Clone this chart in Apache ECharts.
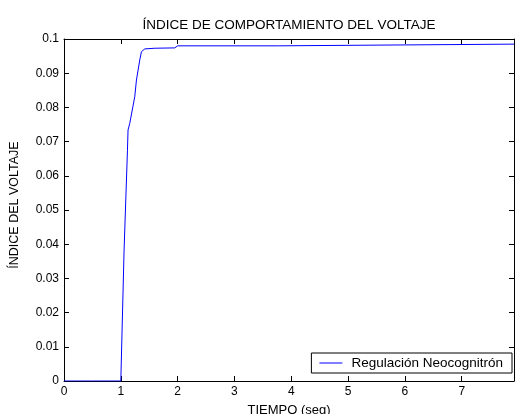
<!DOCTYPE html>
<html>
<head>
<meta charset="utf-8">
<script src="https://cdn.jsdelivr.net/npm/echarts@6/dist/echarts.min.js"></script>
<style>html,body{margin:0;padding:0;background:#fff}#c{width:515px;height:414px}</style>
</head>
<body>
<div id="c"></div>
<script>
const titleText = 'ÍNDICE DE COMPORTAMIENTO DEL VOLTAJE';
const xName = 'TIEMPO (seg)';
const yName = 'ÍNDICE DEL VOLTAJE';
const seriesName = 'Regulación Neocognitrón';
const time = [0, 0.5, 1.0, 1.057, 1.117, 1.127, 1.157, 1.245, 1.275, 1.334, 1.363, 1.422, 1.6, 1.95, 2.0, 3.77, 3.8, 7.92];
const voltIndex = [0, 0, 0, 0.038, 0.0675, 0.0734, 0.0753, 0.0831, 0.0880, 0.0939, 0.0963, 0.0971, 0.0973, 0.0974, 0.0980, 0.0980, 0.0985, 0.0985];

const chart = echarts.init(document.getElementById('c'));
const font = 'Liberation Sans, Arial, sans-serif';
function axisLine() { return {show: true, onZero: false, lineStyle: {color: '#000', width: 1}}; }
function axisTick() { return {show: true, inside: true, length: 5, lineStyle: {color: '#000', width: 1}}; }
chart.setOption({
  animation: false,
  backgroundColor: '#fff',
  title: {text: titleText, left: 284, top: 13, textAlign: 'center',
    textStyle: {fontFamily: font, fontSize: 13.5, fontWeight: 'normal', color: '#000'}},
  grid: {left: 64, right: 1, top: 39, bottom: 33, outerBoundsMode: 'none', containLabel: false},
  legend: {
    right: 3, bottom: 41, orient: 'horizontal',
    borderColor: '#000', borderWidth: 1, backgroundColor: '#fff',
    padding: [3, 9, 3, 8], itemWidth: 23, itemHeight: 1,
    textStyle: {fontFamily: font, fontSize: 13.5, color: '#000', padding: [0, 0, 0, 4]},
    data: [{name: seriesName, icon: 'rect', itemStyle: {color: '#0000ff'}}]
  },
  xAxis: [
    {type: 'value', min: 0, max: 7.92, interval: 1, position: 'bottom',
      name: xName, nameLocation: 'middle', nameGap: 23,
      nameTextStyle: {fontFamily: font, fontSize: 13, color: '#000'},
      axisLine: axisLine(), axisTick: axisTick(), splitLine: {show: false},
      axisLabel: {fontFamily: font, fontSize: 12, color: '#000', margin: 5, showMaxLabel: false,
        formatter: v => Number.isInteger(v) ? String(v) : ''}},
    {type: 'value', min: 0, max: 7.92, interval: 1, position: 'top',
      axisLine: axisLine(), axisTick: axisTick(), splitLine: {show: false},
      axisLabel: {show: false}}
  ],
  yAxis: [
    {type: 'value', min: 0, max: 0.1, interval: 0.01, position: 'left',
      name: yName, nameLocation: 'middle', nameGap: 43,
      nameTextStyle: {fontFamily: font, fontSize: 12.5, color: '#000', padding: [0, 0, 0, 10]},
      axisLine: axisLine(), axisTick: axisTick(), splitLine: {show: false},
      axisLabel: {fontFamily: font, fontSize: 12, color: '#000', margin: 5,
        formatter: v => String(Math.round(v * 100) / 100)}},
    {type: 'value', min: 0, max: 0.1, interval: 0.01, position: 'right',
      axisLine: axisLine(), axisTick: axisTick(), splitLine: {show: false},
      axisLabel: {show: false}}
  ],
  series: [{
    name: seriesName, type: 'line', symbol: 'none',
    lineStyle: {color: '#0000ff', width: 1}, itemStyle: {color: '#0000ff'},
    data: time.map((t, i) => [t, voltIndex[i]])
  }]
});
</script>
</body>
</html>
